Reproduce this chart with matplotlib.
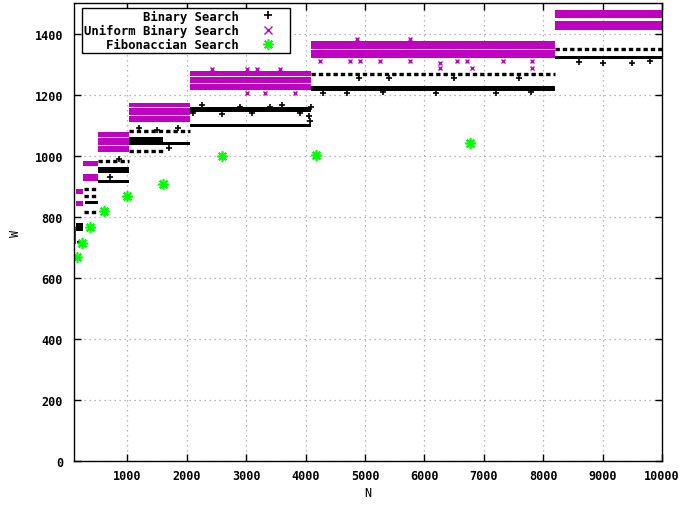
import numpy as np
import matplotlib
matplotlib.use("Agg")
import matplotlib.pyplot as plt

# Fibonaccian search: one point per Fibonacci N
fib_n = [144, 233, 377, 610, 987, 1597, 2584, 4181, 6765]
fib_w = [667, 715, 766, 818, 867, 906, 1000, 1003, 1042]

# Binary search: dense bands of points (N from, N to, W low, W high)
bs_n0 = [128, 145, 285, 512, 512, 1024, 1024, 2048, 2048, 4096, 8192]
bs_n1 = [256, 230, 512, 1024, 1024, 1600, 2048, 4096, 4096, 8192, 10000]
bs_lo = [752, 714, 842, 944, 910, 1046, 1034, 1143, 1095, 1211, 1315]
bs_hi = [778, 722, 853, 964, 920, 1060, 1046, 1158, 1105, 1227, 1328]

# Binary search: sparse rows of points (N from, N to, W)
bs_sp_n0 = [260, 260, 260, 512, 1024, 1024, 4096, 8192]
bs_sp_n1 = [512, 512, 512, 1024, 2048, 1600, 8192, 10000]
bs_sp_w = [890, 869, 815, 983, 1081, 1016, 1266, 1348]

# Binary search: isolated points
bs_out_n = [2100, 2250, 2600, 2900, 3100, 3400, 3600, 3900, 4050, 4080, 4090,
            4300, 4700, 5300, 6200, 7200, 7800, 4900, 5400, 6500, 7600,
            8600, 9000, 9500, 9800, 1200, 1500, 1700, 1850, 700, 850]
bs_out_w = [1140, 1165, 1138, 1160, 1140, 1160, 1165, 1140, 1130, 1115, 1160,
            1205, 1205, 1207, 1205, 1205, 1208, 1255, 1255, 1255, 1255,
            1306, 1305, 1305, 1310, 1090, 1085, 1025, 1090, 930, 990]

# Uniform binary search: dense bands (N from, N to, W low, W high)
ub_n0 = [100, 128, 128, 256, 256, 512, 512, 512, 1024, 1024, 1024,
         2048, 2048, 2048, 4096, 4096, 8192, 8192]
ub_n1 = [128, 256, 256, 512, 512, 1024, 1024, 1024, 2048, 2048, 2048,
         4096, 4096, 4096, 8192, 8192, 10000, 10000]
ub_lo = [712, 873, 836, 966, 918, 1061, 1036, 1011, 1160, 1134, 1109,
         1260, 1238, 1216, 1349, 1320, 1450, 1410]
ub_hi = [766, 891, 853, 983, 941, 1076, 1058, 1032, 1174, 1157, 1131,
         1278, 1257, 1236, 1374, 1346, 1478, 1440]

# Uniform binary search: isolated points
ub_out_n = [4241, 4746, 4915, 5251, 5757, 6262, 6548, 6716, 7322, 7810,
            6262, 6795, 7805, 4860, 5757, 3007, 3315, 3820, 2418, 3007, 3175, 3568]
ub_out_w = [1310, 1310, 1310, 1310, 1310, 1305, 1310, 1310, 1310, 1310,
            1286, 1286, 1286, 1381, 1381, 1205, 1205, 1205, 1283, 1283, 1283, 1283]

x_ticks = [1000, 2000, 3000, 4000, 5000, 6000, 7000, 8000, 9000, 10000]
y_ticks = [0, 200, 400, 600, 800, 1000, 1200, 1400]

black = "#000000"
magenta = "#c000c0"
green = "#00ff00"

plt.rcParams["font.family"] = ["DejaVu Sans Mono"]
plt.rcParams["font.weight"] = "bold"
plt.rcParams["font.size"] = 8.5

fig = plt.figure(figsize=(6.85, 5.06), dpi=100)
ax = fig.add_axes([74 / 685, 1 - 462 / 506, 588 / 685, 458 / 506])

# binary search
ax.bar(bs_n0, np.subtract(bs_hi, bs_lo), width=np.subtract(bs_n1, bs_n0),
       bottom=bs_lo, align="edge", color=black, linewidth=0)
ax.hlines(bs_sp_w, bs_sp_n0, bs_sp_n1, colors=black, linewidth=2.4,
          linestyles=(0, (1.3, 0.9)))
ax.plot(bs_out_n, bs_out_w, "+", color=black, markersize=4, mew=1.2,
        label="Binary Search")

# uniform binary search
ax.bar(ub_n0, np.subtract(ub_hi, ub_lo), width=np.subtract(ub_n1, ub_n0),
       bottom=ub_lo, align="edge", color=magenta, linewidth=0)
ax.plot(ub_out_n, ub_out_w, "x", color=magenta, markersize=3.5, mew=1,
        label="Uniform Binary Search")

# fibonaccian search
ax.plot(fib_n, fib_w, linestyle="none", marker=(8, 2, 0), color=green,
        markersize=7.5, mew=1.2, label="Fibonaccian Search")

ax.set_xlim(100, 10000)
ax.set_ylim(0, 1500)
ax.set_xticks(x_ticks)
ax.set_yticks(y_ticks)
ax.tick_params(direction="in", top=True, right=True, length=5, width=1)
ax.tick_params(axis="x", pad=6)
ax.tick_params(axis="y", pad=8)
ax.set_axisbelow(True)
ax.grid(True, color="#a0a0a0", linestyle=(0, (1, 3)), linewidth=0.9)
for s in ax.spines.values():
    s.set_linewidth(1)

ax.set_xlabel("N", labelpad=3)
ax.set_ylabel("W", labelpad=9)

leg = ax.legend(loc="upper left", bbox_to_anchor=(0.0136, 0.99), borderaxespad=0,
                markerfirst=False, fancybox=False, framealpha=1, edgecolor=black,
                handlelength=3.3, handletextpad=0.75, borderpad=0.15,
                labelspacing=0.1, prop={"size": 8.8, "weight": "bold"})
leg.get_frame().set_linewidth(1)
leg.legend_handles[0].set_markersize(6)
leg.legend_handles[1].set_markersize(6)

fig.savefig("out.png", dpi=100)
